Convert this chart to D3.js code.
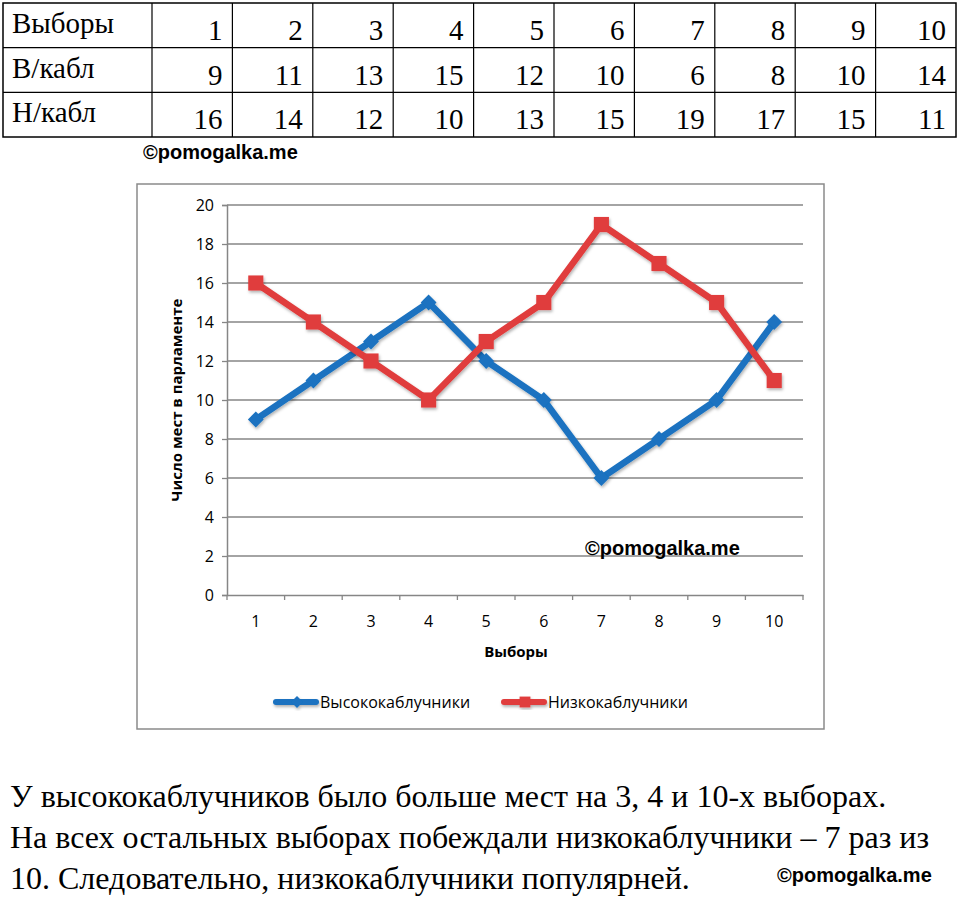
<!DOCTYPE html>
<html>
<head>
<meta charset="utf-8">
<script src="https://d3js.org/d3.v7.min.js"></script>
<style>
  body { margin: 0; background: #fff; }
  svg { display: block; }
  .serif { font-family: "Liberation Serif", "Times New Roman", serif; fill: #000; }
  .sans { font-family: "Open Sans", "Noto Sans", sans-serif; fill: #000; }
  .mark { font-family: "Liberation Sans", Arial, sans-serif; font-weight: bold; fill: #000; }
</style>
</head>
<body>
<svg width="960" height="911"></svg>
<script>
// data
const ELECTIONS = [1, 2, 3, 4, 5, 6, 7, 8, 9, 10];
const HIGH_HEELS = [9, 11, 13, 15, 12, 10, 6, 8, 10, 14];
const LOW_HEELS = [16, 14, 12, 10, 13, 15, 19, 17, 15, 11];
const Y_TICKS = [0, 2, 4, 6, 8, 10, 12, 14, 16, 18, 20];
const ROW_LABELS = ['Выборы', 'В/кабл', 'Н/кабл'];
const SERIES_NAMES = ['Высококаблучники', 'Низкокаблучники'];
const SUMMARY_LINES = [
  'У высококаблучников было больше мест на 3, 4 и 10-х выборах.',
  'На всех остальных выборах побеждали низкокаблучники – 7 раз из',
  '10. Следовательно, низкокаблучники популярней.'
];
const WATERMARK = '©pomogalka.me';

const BLUE = '#1a72c0';
const RED = '#e03c3c';

const svg = d3.select('svg');

// ---------- table on top ----------
const tableRows = [ELECTIONS, HIGH_HEELS, LOW_HEELS];
const tx = d3.scaleBand().domain(ELECTIONS).range([152, 956]);
const ty = d3.scaleBand().domain(ROW_LABELS).range([3, 137]);

const table = svg.append('g');
table.append('rect')
  .attr('x', 3).attr('y', 3).attr('width', 953).attr('height', 134)
  .attr('fill', 'none').attr('stroke', '#000').attr('stroke-width', 1.5);

table.selectAll('line.row').data(ROW_LABELS.slice(1)).enter().append('line')
  .attr('x1', 3).attr('x2', 956)
  .attr('y1', d => ty(d)).attr('y2', d => ty(d))
  .attr('stroke', '#000').attr('stroke-width', 1.2);

table.selectAll('line.col').data(ELECTIONS).enter().append('line')
  .attr('x1', d => tx(d)).attr('x2', d => tx(d))
  .attr('y1', 3).attr('y2', 137)
  .attr('stroke', '#000').attr('stroke-width', 1.2);

table.selectAll('text.label').data(ROW_LABELS).enter().append('text')
  .attr('class', 'serif')
  .attr('x', 12)
  .attr('y', d => ty(d) + 30)
  .attr('font-size', 29)
  .text(d => d);

tableRows.forEach(function(row, r) {
  table.selectAll('text.r' + r).data(row).enter().append('text')
    .attr('class', 'serif r' + r)
    .attr('x', (d, i) => tx(ELECTIONS[i]) + tx.bandwidth() - 10)
    .attr('y', ty(ROW_LABELS[r]) + 37)
    .attr('text-anchor', 'end')
    .attr('font-size', 29)
    .text(d => d);
});

svg.append('text').attr('class', 'mark')
  .attr('x', 143).attr('y', 159).attr('font-size', 20)
  .text(WATERMARK);

// ---------- chart ----------
const frame = { x: 137, y: 184, w: 687, h: 545 };
svg.append('rect')
  .attr('x', frame.x).attr('y', frame.y)
  .attr('width', frame.w).attr('height', frame.h)
  .attr('fill', '#fff').attr('stroke', '#8a8a8a').attr('stroke-width', 1.5);

const plot = { left: 227, right: 803, top: 205, bottom: 595 };
const x = d3.scaleBand().domain(ELECTIONS).range([plot.left, plot.right]);
const y = d3.scaleLinear().domain([0, 20]).range([plot.bottom, plot.top]);

const defs = svg.append('defs');
const shadow = defs.append('filter').attr('id', 'shadow')
  .attr('x', '-20%').attr('y', '-20%').attr('width', '140%').attr('height', '140%');
shadow.append('feDropShadow')
  .attr('dx', 1).attr('dy', 2).attr('stdDeviation', 1.5)
  .attr('flood-color', '#000').attr('flood-opacity', 0.3);

// gridlines
svg.append('g')
  .selectAll('line').data(Y_TICKS.slice(1)).enter().append('line')
  .attr('x1', plot.left).attr('x2', plot.right)
  .attr('y1', d => y(d)).attr('y2', d => y(d))
  .attr('stroke', '#868686').attr('stroke-width', 1.3);

// y axis
const yAxis = svg.append('g')
  .attr('transform', `translate(${plot.left},0)`)
  .call(d3.axisLeft(y).tickValues(Y_TICKS).tickSize(5).tickPadding(8));
yAxis.select('.domain').attr('stroke', '#868686').attr('stroke-width', 1.5);
yAxis.selectAll('.tick line').attr('stroke', '#868686').attr('stroke-width', 1.3);
yAxis.selectAll('.tick text')
  .attr('class', 'sans').style('font-size', '16px').attr('fill', '#000');

// x axis: ticks at band edges, labels at band centres
const xAxis = svg.append('g')
  .attr('transform', `translate(0,${plot.bottom})`)
  .call(d3.axisBottom(x).tickSize(0).tickPadding(21));
xAxis.select('.domain').attr('stroke', '#868686').attr('stroke-width', 1.5);
xAxis.selectAll('.tick text')
  .attr('class', 'sans').style('font-size', '16px').attr('fill', '#000');
xAxis.selectAll('line.edge').data(ELECTIONS.concat(['end'])).enter().append('line')
  .attr('x1', d => d === 'end' ? plot.right : x(d))
  .attr('x2', d => d === 'end' ? plot.right : x(d))
  .attr('y1', 0).attr('y2', 5)
  .attr('stroke', '#868686').attr('stroke-width', 1.3);

// axis titles
svg.append('text').attr('class', 'sans')
  .attr('transform', `translate(182,${(plot.top + plot.bottom) / 2}) rotate(-90)`)
  .attr('text-anchor', 'middle')
  .attr('font-size', 15).attr('font-weight', 'bold')
  .text('Число мест в парламенте');

svg.append('text').attr('class', 'sans')
  .attr('x', 516).attr('y', 657)
  .attr('text-anchor', 'middle')
  .attr('font-size', 15).attr('font-weight', 'bold')
  .text('Выборы');

svg.append('text').attr('class', 'mark')
  .attr('x', 585).attr('y', 555).attr('font-size', 20)
  .text(WATERMARK);

// series
const cx = d => x(d) + x.bandwidth() / 2;
const line = d3.line().x((v, i) => cx(ELECTIONS[i])).y(v => y(v));
const diamond = d3.symbol().type(d3.symbolDiamond2).size(160);
const square = d3.symbol().type(d3.symbolSquare2).size(290);

const series = [
  { name: SERIES_NAMES[0], values: HIGH_HEELS, color: BLUE, symbol: diamond },
  { name: SERIES_NAMES[1], values: LOW_HEELS, color: RED, symbol: square }
];

series.forEach(function(s) {
  const g = svg.append('g').attr('filter', 'url(#shadow)');
  g.append('path')
    .attr('d', line(s.values))
    .attr('fill', 'none').attr('stroke', s.color)
    .attr('stroke-width', 6.5).attr('stroke-linejoin', 'round');
  g.selectAll('path.pt').data(s.values).enter().append('path')
    .attr('d', s.symbol)
    .attr('transform', (v, i) => `translate(${cx(ELECTIONS[i])},${y(v)})`)
    .attr('fill', s.color);
});

// legend
const legend = svg.append('g').attr('transform', 'translate(0,702)');
const legendX = [276, 504];
series.forEach(function(s, i) {
  const g = legend.append('g').attr('transform', `translate(${legendX[i]},0)`)
    .attr('filter', 'url(#shadow)');
  g.append('line')
    .attr('x1', 0).attr('x2', 40).attr('y1', 0).attr('y2', 0)
    .attr('stroke', s.color).attr('stroke-width', 6).attr('stroke-linecap', 'round');
  g.append('path')
    .attr('d', i === 0 ? d3.symbol().type(d3.symbolDiamond2).size(90)() : d3.symbol().type(d3.symbolSquare2).size(150)())
    .attr('transform', 'translate(21,0)')
    .attr('fill', s.color);
  legend.append('text').attr('class', 'sans')
    .attr('x', legendX[i] + 44).attr('y', 6)
    .attr('font-size', 16)
    .text(s.name);
});

// ---------- summary text ----------
svg.selectAll('text.summary').data(SUMMARY_LINES).enter().append('text')
  .attr('class', 'serif summary')
  .attr('x', 10)
  .attr('y', (d, i) => 807 + i * 41)
  .attr('font-size', 32)
  .text(d => d);

svg.append('text').attr('class', 'mark')
  .attr('x', 777).attr('y', 882).attr('font-size', 20)
  .text(WATERMARK);
</script>
</body>
</html>
